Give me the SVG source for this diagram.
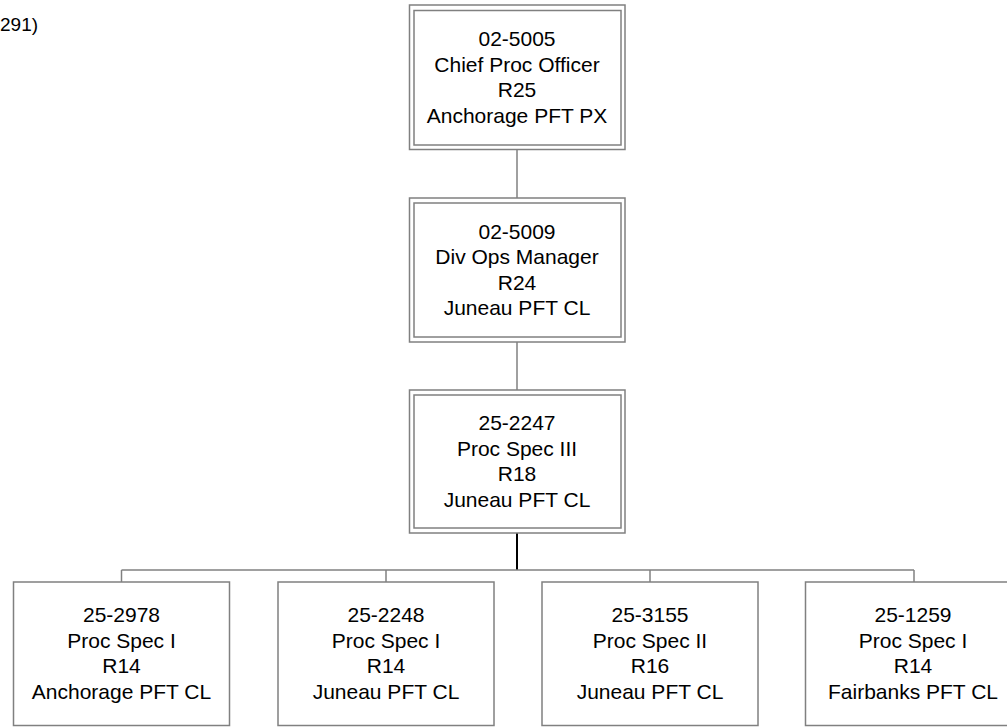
<svg xmlns="http://www.w3.org/2000/svg" width="1007" height="727" viewBox="0 0 1007 727">
<style>
.box{fill:#fff;stroke:#808080;stroke-width:1.5}
.ln{stroke:#808080;stroke-width:1.5;fill:none}
.thk{stroke:#000;stroke-width:2;fill:none}
text{font-family:"Liberation Sans",Arial,sans-serif;font-size:21px;fill:#000;text-anchor:middle}
</style>
<rect width="1007" height="727" fill="#fff"/>
<text x="0" y="31" style="text-anchor:start;font-size:19px">291)</text>
<g id="connectors">
<line class="ln" x1="517" y1="150" x2="517" y2="198"/>
<line class="ln" x1="517" y1="342" x2="517" y2="390"/>
<line class="thk" x1="517" y1="533" x2="517" y2="570"/>
<line class="ln" x1="121.5" y1="570" x2="914" y2="570"/>
<line class="ln" x1="121.5" y1="570" x2="121.5" y2="582"/>
<line class="ln" x1="386" y1="570" x2="386" y2="582"/>
<line class="ln" x1="650" y1="570" x2="650" y2="582"/>
<line class="ln" x1="914" y1="570" x2="914" y2="582"/>
</g>
<g id="n1">
<rect class="box" x="409.5" y="5" width="215.5" height="144.5"/>
<rect class="box" x="414" y="10.5" width="207" height="134.5"/>
<text x="517" y="46">02-5005</text>
<text x="517" y="71.5">Chief Proc Officer</text>
<text x="517" y="97">R25</text>
<text x="517" y="122.5">Anchorage PFT PX</text>
</g>
<g id="n2">
<rect class="box" x="409.5" y="198" width="215.5" height="144"/>
<rect class="box" x="414" y="203" width="207" height="134"/>
<text x="517" y="238.5">02-5009</text>
<text x="517" y="264">Div Ops Manager</text>
<text x="517" y="289.5">R24</text>
<text x="517" y="315">Juneau PFT CL</text>
</g>
<g id="n3">
<rect class="box" x="409.5" y="390" width="215.5" height="143"/>
<rect class="box" x="414" y="395" width="207" height="133"/>
<text x="517" y="430">25-2247</text>
<text x="517" y="455.5">Proc Spec III</text>
<text x="517" y="481">R18</text>
<text x="517" y="506.5">Juneau PFT CL</text>
</g>
<g id="n4">
<rect class="box" x="13.5" y="582" width="216" height="143.5"/>
<text x="121.5" y="622">25-2978</text>
<text x="121.5" y="647.5">Proc Spec I</text>
<text x="121.5" y="673">R14</text>
<text x="121.5" y="698.5">Anchorage PFT CL</text>
</g>
<g id="n5">
<rect class="box" x="278" y="582" width="216" height="143.5"/>
<text x="386" y="622">25-2248</text>
<text x="386" y="647.5">Proc Spec I</text>
<text x="386" y="673">R14</text>
<text x="386" y="698.5">Juneau PFT CL</text>
</g>
<g id="n6">
<rect class="box" x="542" y="582" width="216" height="143.5"/>
<text x="650" y="622">25-3155</text>
<text x="650" y="647.5">Proc Spec II</text>
<text x="650" y="673">R16</text>
<text x="650" y="698.5">Juneau PFT CL</text>
</g>
<g id="n7">
<rect class="box" x="805.5" y="582" width="216" height="143.5"/>
<text x="913" y="622">25-1259</text>
<text x="913" y="647.5">Proc Spec I</text>
<text x="913" y="673">R14</text>
<text x="913" y="698.5">Fairbanks PFT CL</text>
</g>
</svg>
